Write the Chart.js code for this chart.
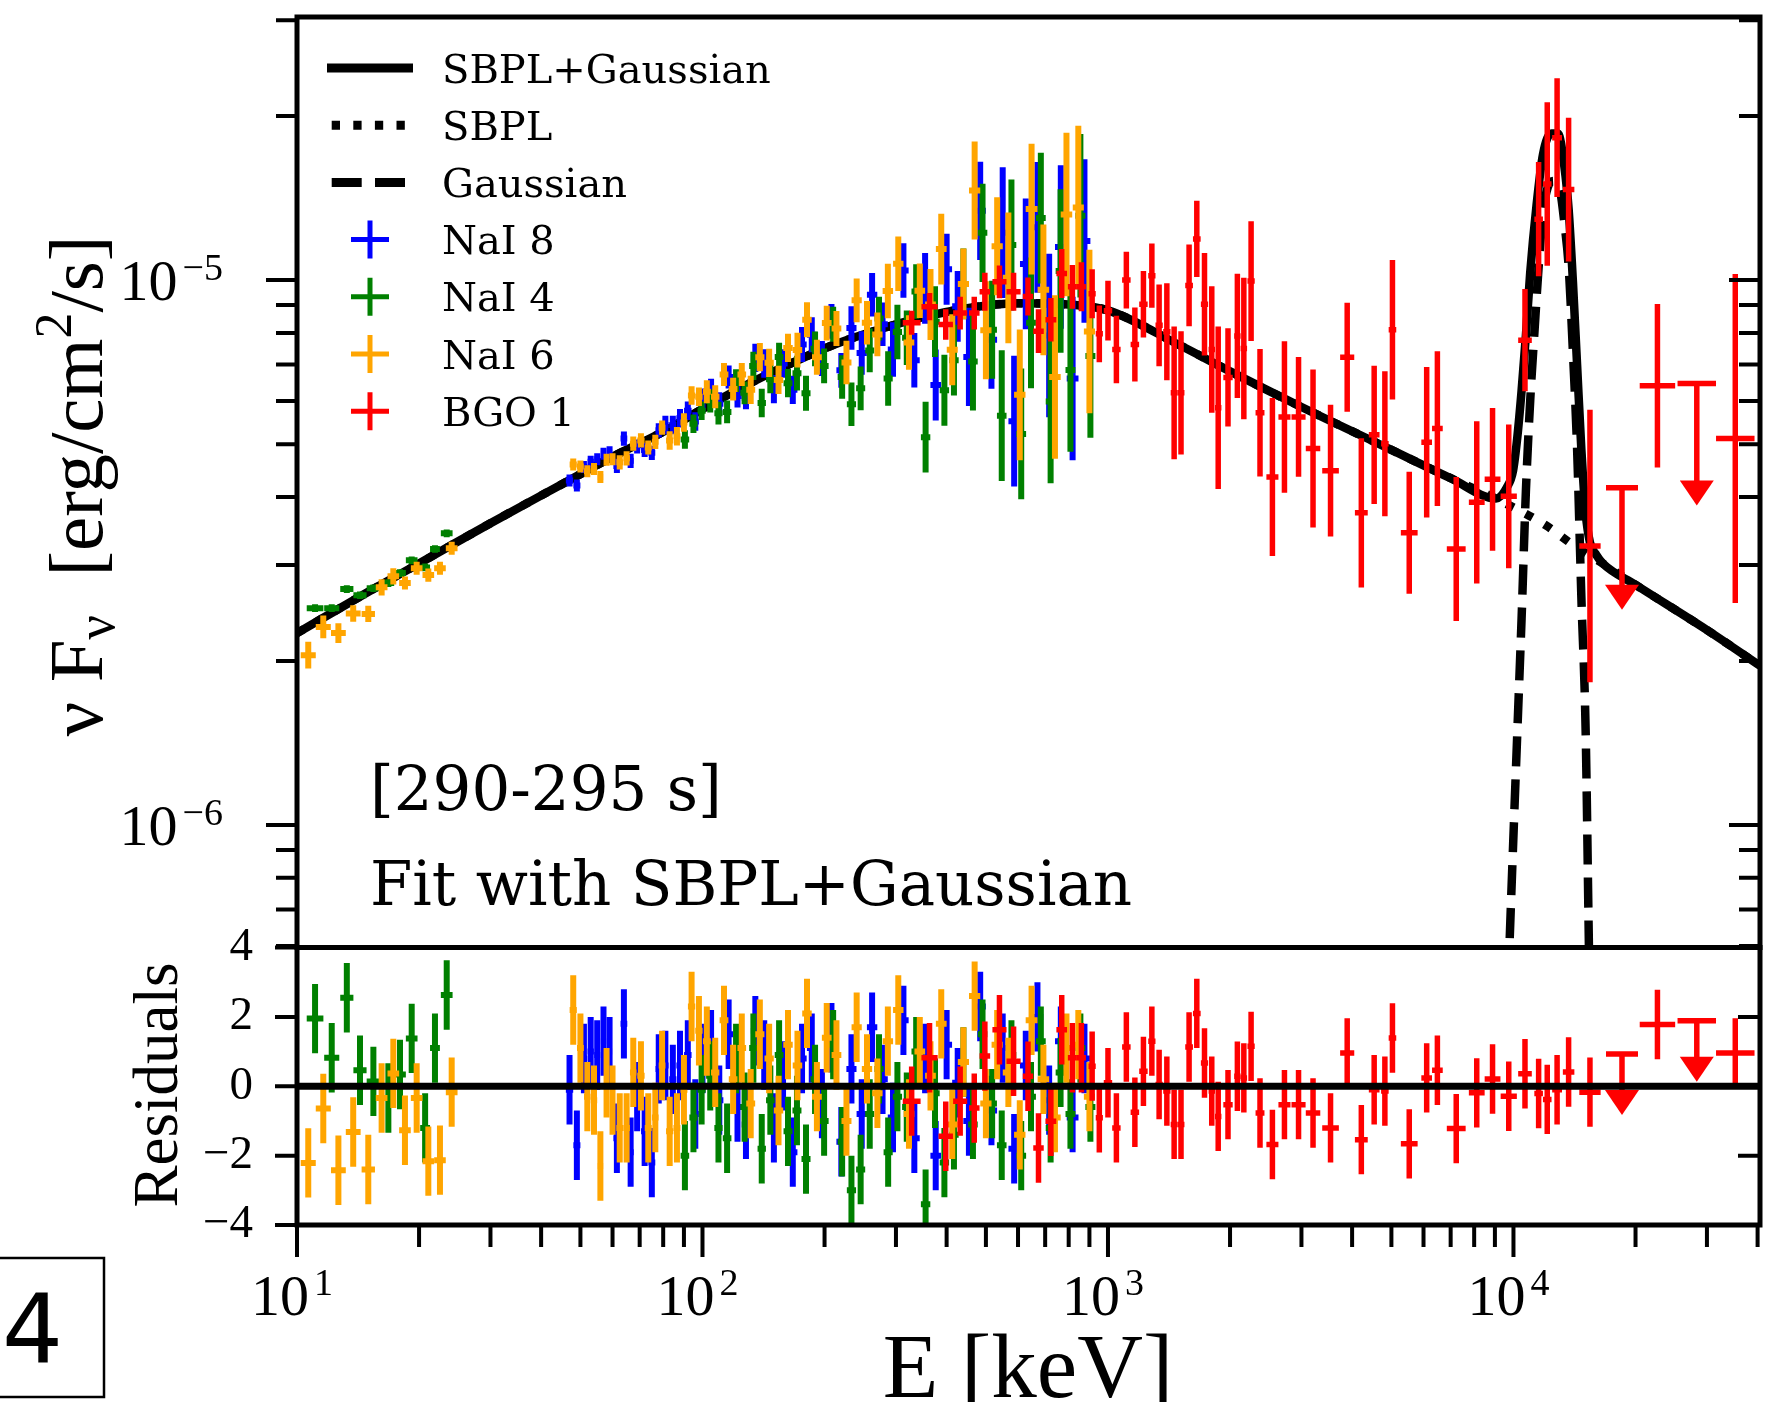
<!DOCTYPE html>
<html lang="en">
<head>
<meta charset="utf-8">
<title>SBPL+Gaussian fit, 290-295 s</title>
<script src="https://cdn.jsdelivr.net/npm/chart.js@4.4.1/dist/chart.umd.min.js"></script>
<style>
  html, body { margin: 0; background: #fff; }
  #page { position: relative; width: 1777px; height: 1402px; overflow: hidden; background: #fff; }
  #page canvas, #page svg { position: absolute; left: 0; }
  #overlay { top: 0; pointer-events: none; }
</style>
</head>
<body>
<div id="page">
  <canvas id="spectrum" width="1777" height="1100" style="top:-60px"></canvas>
  <canvas id="residuals" width="1777" height="522" style="top:880px"></canvas>
  <svg id="overlay" width="1777" height="1402" xmlns="http://www.w3.org/2000/svg">
    <g id="legend" font-family="DejaVu Serif" font-size="40"></g>
    <g font-family="DejaVu Serif" font-size="61">
      <text x="370" y="810">[290-295 s]</text>
      <text x="370" y="905">Fit with SBPL+Gaussian</text>
    </g>
    <g font-family="Liberation Serif">
      <text xml:space="preserve" transform="translate(102 486) rotate(-90)" text-anchor="middle" font-size="77">ν F<tspan font-size="54" dy="12">ν</tspan><tspan dy="-12">  [erg/cm</tspan><tspan font-size="52" dy="-31">2</tspan><tspan dy="31">/s]</tspan></text>
      <text transform="translate(177 1085) rotate(-90)" text-anchor="middle" font-size="63">Residuals</text>
      <text x="1028" y="1397" text-anchor="middle" font-size="91">E [keV]</text>
    </g>
    <rect x="-5" y="1258" width="109" height="139" fill="none" stroke="#000" stroke-width="2.5"/>
    <text x="2" y="1363" font-family="DejaVu Sans" font-size="96">4</text>
  </svg>
</div>
<script>
// flux values below are in units of 1e-6 erg/cm^2/s
const FLUX_UNIT = 1e-6;
const energyRange = [10, 40550];
const fluxRange = [5.96e-7, 3.04e-5];
const residualRange = [-4, 4];

const energyTicks = [10, 20, 30, 40, 50, 60, 70, 80, 90, 100, 200, 300, 400, 500, 600, 700, 800, 900,
  1000, 2000, 3000, 4000, 5000, 6000, 7000, 8000, 9000, 10000, 20000, 30000, 40000];
const fluxTicks = [6e-7, 7e-7, 8e-7, 9e-7, 1e-6, 2e-6, 3e-6, 4e-6, 5e-6, 6e-6, 7e-6, 8e-6, 9e-6, 1e-5, 2e-5, 3e-5];
const residualTicks = [-4, -2, 0, 2, 4];

const modelNames = ['SBPL+Gaussian', 'SBPL', 'Gaussian'];
const detectorNames = ['NaI 8', 'NaI 4', 'NaI 6', 'BGO 1'];
const detectorColors = ['#0000ff', '#008000', '#ffa500', '#ff0000'];

// model curves
const sbplE = [10, 15, 20, 30, 45, 60, 80, 100, 130, 170, 210, 270, 350, 450, 600, 800, 1000, 1500, 2000, 3000,
  5000, 7000, 9000, 12000, 14000, 16600, 20000, 30000, 40550];
const sbplFlux = [2.25, 2.68, 3.02, 3.58, 4.22, 4.74, 5.27, 5.80, 6.45, 7.10, 7.60, 8.10, 8.55, 8.88, 9.07, 9.02, 8.80, 7.60, 6.80, 5.85,
  4.88, 4.33, 3.98, 3.55, 3.27, 3.02, 2.76, 2.28, 1.96];

const totalE = [10, 15, 20, 30, 45, 60, 80, 100, 130, 170, 210, 270, 350, 450, 600, 800, 1000, 1500, 2000, 3000, 5000, 7000,
  9055, 9621, 9977, 10222, 10471, 10730, 10996, 11400, 11823, 12410, 12866, 13357, 13679, 14014, 14354, 14704, 15067,
  15440, 16010, 16610, 20000, 30000, 40550];
const totalFlux = [2.25, 2.68, 3.02, 3.58, 4.22, 4.74, 5.27, 5.80, 6.45, 7.10, 7.60, 8.10, 8.55, 8.88, 9.07, 9.02, 8.80, 7.60, 6.80, 5.85, 4.88, 4.33,
  3.975, 4.16, 4.47, 5.15, 6.26, 7.90, 10.32, 13.73, 17.0, 18.59, 18.59, 16.12, 13.49, 9.96, 6.97, 4.89, 3.74,
  3.30, 3.13, 3.02, 2.76, 2.28, 1.96];

const gaussE = [9400, 9772, 10222, 10471, 10730, 10996, 11261, 11539, 11823, 12150, 12570, 13032, 13357, 13679, 14014,
  14354, 14704, 15067, 15350, 15650];
const gaussFlux = [0.25, 0.596, 1.484, 2.39, 4.09, 6.0, 8.0, 10.6, 13.3, 14.8, 15.2, 14.6, 12.7, 10.6, 7.4,
  4.89, 2.62, 1.484, 0.596, 0.24];

// NaI 8
const nai8E = [47, 49, 51, 53, 55, 57, 59, 61.5, 64, 66.5, 69, 72, 75, 78, 81, 84.5, 88, 92, 96, 100, 105, 110, 116, 122, 128,
  135, 142, 150, 158, 167, 176, 186, 197, 208, 220, 233, 247, 262, 278, 295, 313, 333, 354, 376, 400, 426, 454, 484, 516,
  550, 587, 627, 670, 716, 765, 818, 875];
const nai8Flux = [4.29, 4.20, 4.54, 4.64, 4.69, 4.80, 4.83, 4.56, 5.12, 4.66, 4.95, 4.88, 4.82, 5.30, 5.42, 5.42, 5.58, 5.76, 5.50, 6.03,
  6.28, 5.93, 6.64, 6.13, 6.08, 7.20, 7.03, 6.31, 7.03, 6.29, 7.62, 7.94, 7.18, 8.40, 6.83, 8.17, 7.35, 9.40, 8.30, 7.46,
  10.42, 7.13, 9.66, 6.42, 10.47, 8.95, 7.23, 13.4, 7.77, 12.22, 5.51, 10.71, 12.5, 7.91, 11.5, 6.60, 11.80];
const nai8Dex = [0.011, 0.011, 0.011, 0.011, 0.011, 0.011, 0.011, 0.013, 0.013, 0.013, 0.013, 0.013, 0.013, 0.013,
  0.017, 0.017, 0.017, 0.017, 0.017, 0.021, 0.021, 0.021, 0.021, 0.021, 0.021, 0.026, 0.026, 0.026, 0.026, 0.026,
  0.032, 0.032, 0.032, 0.032, 0.032, 0.04, 0.04, 0.04, 0.04, 0.05, 0.05, 0.05, 0.065, 0.065, 0.065, 0.065,
  0.09, 0.09, 0.09, 0.12, 0.12, 0.12, 0.12, 0.15, 0.15, 0.15, 0.15];
const nai8Res = [-0.1, -1.7, 0.8, 1.0, 0.9, 1.3, 1.0, -1.5, 1.8, -1.9, -0.3, -1.3, -2.2, 0.5, 0.6, 0.2, 0.6, 0.9, -0.8, 0.8,
  1.2, -0.4, 1.5, -0.6, -1.1, 1.6, 0.9, -1.2, 0.3, -1.9, 0.8, 1.1, -0.5, 1.4, -1.6, 0.5, -0.8, 1.7, 0.2, -0.9,
  1.9, -1.5, 0.8, -2.0, 1.2, 0.1, -1.0, 2.3, -0.7, 1.1, -1.8, 0.6, 2.0, -0.4, 1.3, -0.9, 0.8];

// NaI 4
const nai4LowE = [11.08, 12.18, 13.27, 14.30, 15.43, 16.80, 17.95, 19.18, 20.70, 21.89, 23.40];
const nai4LowFlux = [2.50, 2.50, 2.71, 2.64, 2.72, 2.78, 2.90, 3.06, 2.97, 3.21, 3.43];
const nai4LowDex = [0.007, 0.007, 0.007, 0.007, 0.007, 0.007, 0.007, 0.007, 0.007, 0.007, 0.007];
const nai4LowRes = [1.95, 0.82, 2.55, 0.46, 0.14, -0.34, 0.34, 1.38, -1.2, 1.1, 2.63];
const nai4E = [90.5, 95, 99.5, 104.5, 109.5, 115, 121, 127, 133.5, 140, 147, 154.5, 162.5, 171, 180, 189.5, 199.5, 210, 221, 233,
  245.5, 258.5, 272.5, 287, 302.5, 319, 336.5, 355, 374.5, 395, 417, 440, 464.5, 490.5, 518, 547, 578, 611, 646, 683,
  722, 764, 808, 855, 905];
const nai4Flux = [5.10, 5.45, 5.76, 6.00, 5.70, 5.73, 6.54, 6.21, 6.96, 5.95, 6.58, 7.23, 6.47, 6.75, 6.20, 7.48, 6.96, 8.30, 6.64, 5.92,
  6.33, 7.43, 8.50, 6.60, 8.03, 7.84, 9.53, 5.15, 8.39, 6.28, 7.13, 9.84, 7.09, 12.21, 8.11, 5.64, 11.60, 5.22, 8.35, 13.00,
  5.99, 10.39, 6.84, 13.13, 7.26];
const nai4Dex = [0.017, 0.017, 0.017, 0.021, 0.021, 0.021, 0.021, 0.021, 0.026, 0.026, 0.026, 0.026, 0.026,
  0.032, 0.032, 0.032, 0.032, 0.032, 0.04, 0.04, 0.04, 0.04, 0.04, 0.05, 0.05, 0.05, 0.05,
  0.065, 0.065, 0.065, 0.065, 0.065, 0.09, 0.09, 0.09, 0.12, 0.12, 0.12, 0.12, 0.12, 0.15, 0.15, 0.15, 0.15, 0.15];
const nai4Res = [-2.0, -0.9, -0.1, 0.3, -1.2, -1.5, 0.8, -0.6, 1.1, -1.8, -0.4, 0.9, -1.3, -0.7, -2.1, 0.2, -1.0, 1.2, -1.6, -3.0,
  -2.4, -0.8, 0.5, -1.9, -0.3, -0.6, 1.0, -3.4, -0.2, -2.2, -1.4, 0.7, -1.1, 1.5, -0.5, -1.7, 0.9, -2.0, -0.3, 1.3,
  -1.2, 0.4, -0.8, 1.1, -0.6];

// NaI 6
const nai6LowE = [10.66, 11.61, 12.65, 13.76, 14.99, 16.17, 17.28, 18.46, 19.73, 21.08, 22.52, 24.07];
const nai6LowFlux = [2.05, 2.31, 2.25, 2.445, 2.44, 2.73, 2.86, 2.78, 2.96, 2.875, 2.96, 3.22];
const nai6LowDex = [0.0245, 0.021, 0.018, 0.015, 0.015, 0.015, 0.015, 0.012, 0.012, 0.012, 0.012, 0.012];
const nai6LowRes = [-2.21, -0.64, -2.42, -1.32, -2.4, -0.34, 0.37, -1.27, -0.34, -2.16, -2.13, -0.17];
const nai6E = [48, 50, 52, 54, 56, 58, 60, 62.5, 65, 67.5, 70.5, 73.5, 76.5, 79.5, 83, 86.5, 90, 94, 98, 102.5, 107.5, 113, 119,
  125, 131.5, 138.5, 146, 154, 162.5, 171.5, 181, 191.5, 202.5, 214, 226.5, 240, 254.5, 270, 286.5, 304, 323, 343.5,
  365, 388, 413, 440, 469, 500, 533, 568, 606, 648, 693, 740, 790, 845, 900];
const nai6Flux = [4.59, 4.55, 4.46, 4.50, 4.35, 4.68, 4.69, 4.63, 4.71, 5.01, 5.08, 4.93, 5.05, 5.36, 5.08, 5.17, 5.48, 6.14, 6.11, 6.24,
  6.11, 6.71, 6.31, 6.71, 6.29, 7.22, 7.05, 6.56, 7.51, 7.44, 8.46, 7.22, 8.34, 8.15, 7.06, 9.18, 8.35, 7.95, 9.55, 10.72,
  7.68, 9.56, 9.02, 11.40, 7.45, 9.84, 14.6, 8.09, 11.54, 10.10, 6.16, 13.5, 9.60, 6.64, 13.20, 13.59, 8.05];
const nai6Dex = [0.011, 0.011, 0.011, 0.011, 0.011, 0.011, 0.011, 0.013, 0.013, 0.013, 0.013, 0.013, 0.013, 0.013,
  0.017, 0.017, 0.017, 0.017, 0.017, 0.021, 0.021, 0.021, 0.021, 0.021, 0.026, 0.026, 0.026, 0.026, 0.026,
  0.032, 0.032, 0.032, 0.032, 0.032, 0.04, 0.04, 0.04, 0.04, 0.05, 0.05, 0.05, 0.05, 0.065, 0.065, 0.065, 0.065,
  0.09, 0.09, 0.09, 0.12, 0.12, 0.12, 0.12, 0.15, 0.15, 0.15, 0.15];
const nai6Res = [2.2, 1.1, -0.3, -0.4, -2.3, 0.1, -0.4, -1.2, -1.2, 0.4, 0.3, -1.2, -0.9, 0.6, -1.3, -1.2, -0.1, 2.3, 1.6, 1.3,
  0.4, 1.9, 0.2, 1.1, -0.5, 1.5, 0.8, -0.7, 1.2, 0.6, 2.1, -0.3, 1.4, 0.9, -1.0, 1.7, 0.5, -0.2, 1.3, 2.2,
  -0.8, 1.0, 0.3, 1.8, -1.1, 0.7, 2.6, -0.5, 1.2, 0.4, -1.4, 1.9, 0.2, -0.9, 1.1, 1.2, -0.3];

// BGO 1 (upper limits listed in bgoUpperLimits, flux there is the limit)
const bgoE = [328, 363, 398, 432, 468, 497, 540, 585, 635, 674, 723, 769, 817, 860, 914,
  952, 1000, 1049, 1110, 1165, 1223, 1283, 1337, 1397, 1456, 1514,
  1585, 1656, 1730, 1803, 1870, 1977, 2085, 2163, 2254, 2371,
  2544, 2724, 2951, 3204, 3539, 3890, 4215, 4534, 4818, 5030,
  5533, 6109, 6492, 7225, 8118, 8880, 9736, 10676, 11536, 12114,
  12811, 13677, 15440, 18520, 22650, 28320, 35240];
const bgoFlux = [8.35, 8.94, 8.29, 8.70, 8.70, 9.52, 9.93, 9.52, 9.33, 8.06, 8.46, 10.28, 9.72, 9.72, 9.44,
  7.97, 8.79, 7.46, 10.0, 7.62, 9.03, 10.19, 8.26, 8.04, 6.21, 6.21,
  9.78, 11.9, 9.03, 7.46, 5.83, 6.63, 7.90, 7.49, 9.96, 5.71,
  4.35, 5.61, 5.61, 4.91, 4.47, 7.22, 3.74, 5.20, 5.01, 8.11,
  3.44, 5.04, 5.34, 3.21, 3.91, 4.31, 4.01, 7.76, 12.94, 15.01,
  18.26, 14.66, 3.25, 4.16, 6.40, 6.46, 5.12];
const bgoDex = [0.022, 0.025, 0.028, 0.03, 0.03, 0.035, 0.03, 0.035, 0.035, 0.04, 0.04, 0.045, 0.04, 0.045, 0.045,
  0.052, 0.055, 0.062, 0.052, 0.068, 0.061, 0.059, 0.075, 0.089, 0.122, 0.113,
  0.075, 0.07, 0.094, 0.116, 0.149, 0.09, 0.114, 0.13, 0.11, 0.117,
  0.145, 0.139, 0.11, 0.145, 0.121, 0.1, 0.137, 0.127, 0.133, 0.128,
  0.112, 0.138, 0.142, 0.132, 0.149, 0.131, 0.132, 0.094, 0.105, 0.15,
  0.109, 0.132, 0.25, 0, 0.15, 0, 0.302];
const bgoRes = [-0.43, 0.82, -1.44, -0.43, -0.63, 0.87, 1.63, 0.72, 0.29, -1.78, -1.01, 1.63, 0.82, 0.82, 0.58,
  -0.91, 0.1, -1.2, 1.13, -0.75, 0.43, 1.3, 0.05, -0.14, -1.1, -1.1,
  1.13, 2.1, 0.67, -0.14, -0.87, -0.53, 0.29, 0.24, 1.15, -0.77,
  -1.68, -0.53, -0.53, -0.77, -1.2, 0.96, -1.54, -0.1, -0.14, 1.39,
  -1.66, 0.24, 0.46, -1.22, -0.19, 0.21, -0.29, 0.36, -0.21, -0.38,
  -0.1, 0.41, -0.17, 0.93, 1.78, 1.89, 0.96];
const bgoUpperLimits = [18520, 28320];

// ---- helpers ----
function isDecade(v) {
  const p = Math.log10(Math.abs(v));
  return Math.abs(p - Math.round(p)) < 1e-6;
}

// channel widths: half the log distance to the nearest neighbour
function binEdges(E) {
  return E.map((e, i) => {
    const l = i > 0 ? Math.log10(e / E[i - 1]) : Infinity;
    const r = i < E.length - 1 ? Math.log10(E[i + 1] / e) : Infinity;
    const h = Math.min(l, r) / 2;
    return [e / 10 ** h, e * 10 ** h];
  });
}
function spectrumPoints(E, flux, dex, upper = []) {
  const edges = binEdges(E);
  return E.map((e, i) => {
    const f = flux[i] * FLUX_UNIT;
    return { x: e, y: f, ylo: f / 10 ** dex[i], yhi: f * 10 ** dex[i], xlo: edges[i][0], xhi: edges[i][1], ul: upper.includes(e) };
  });
}
function residualPoints(E, res, upper = []) {
  const edges = binEdges(E);
  return E.map((e, i) => ({ x: e, y: res[i], ylo: res[i] - 1, yhi: res[i] + 1, xlo: edges[i][0], xhi: edges[i][1], ul: upper.includes(e) }));
}
function curve(E, flux) {
  return E.map((e, i) => ({ x: e, y: flux[i] * FLUX_UNIT }));
}
function barSet(color, data, width) {
  return { type: 'scatter', data, errorBars: color, barWidth: width, pointRadius: 0, pointHoverRadius: 0 };
}
function lineSet(data, dash) {
  return { type: 'line', data, showLine: true, borderColor: '#000', borderWidth: 8.5, borderDash: dash,
    borderCapStyle: 'butt', pointRadius: 0, cubicInterpolationMode: 'monotone', fill: false };
}

// ---- plugins ----
function drawErrorBars(chart, opts) {
  const { ctx, chartArea: a, scales: { x, y } } = chart;
  ctx.save();
  ctx.beginPath();
  ctx.rect(a.left, a.top, a.right - a.left, a.bottom - a.top);
  ctx.clip();
  ctx.lineCap = 'butt';
  chart.data.datasets.forEach(ds => {
    if (!ds.errorBars) return;
    ctx.strokeStyle = ds.errorBars;
    ctx.fillStyle = ds.errorBars;
    ctx.lineWidth = ds.barWidth;
    ds.data.forEach(p => {
      const px = x.getPixelForValue(p.x);
      const py = y.getPixelForValue(p.y);
      ctx.beginPath();
      ctx.moveTo(x.getPixelForValue(p.xlo), py);
      ctx.lineTo(x.getPixelForValue(p.xhi), py);
      if (p.ul) {
        ctx.moveTo(px, py);
        ctx.lineTo(px, py + opts.arrow - 24);
        ctx.stroke();
        ctx.beginPath();
        ctx.moveTo(px - 17, py + opts.arrow - 25);
        ctx.lineTo(px + 17, py + opts.arrow - 25);
        ctx.lineTo(px, py + opts.arrow);
        ctx.closePath();
        ctx.fill();
      } else {
        ctx.moveTo(px, y.getPixelForValue(p.ylo));
        ctx.lineTo(px, y.getPixelForValue(p.yhi));
        ctx.stroke();
      }
    });
  });
  ctx.restore();
}
const errorBarPlugin = {
  id: 'errorBars',
  beforeDatasetsDraw(chart, args, opts) { if (opts.layer === 'before') drawErrorBars(chart, opts); },
  afterDatasetsDraw(chart, args, opts) { if (opts.layer !== 'before') drawErrorBars(chart, opts); }
};

// "10" with a raised exponent, as in the original tick labels
function powerLabel(ctx, exp, x, baseline, align) {
  const main = '10';
  const sup = String(exp).replace('-', '\u2212');
  ctx.font = "58px 'Liberation Serif'";
  const wMain = ctx.measureText(main).width;
  ctx.font = "38px 'Liberation Serif'";
  const wSup = ctx.measureText(sup).width;
  const gap = 5;
  const total = wMain + gap + wSup;
  const left = align === 'right' ? x - total : x - total / 2;
  ctx.fillStyle = '#000';
  ctx.textAlign = 'left';
  ctx.textBaseline = 'alphabetic';
  ctx.font = "58px 'Liberation Serif'";
  ctx.fillText(main, left, baseline);
  ctx.font = "38px 'Liberation Serif'";
  ctx.fillText(sup, left + wMain + gap, baseline - 20);
}

const axisFramePlugin = {
  id: 'axisFrame',
  afterDraw(chart, args, opts) {
    const { ctx, chartArea: a, scales } = chart;
    ctx.save();
    ctx.strokeStyle = '#000';
    ctx.lineWidth = 4;
    ctx.beginPath();
    scales.y.ticks.forEach(t => {
      const len = opts.yLog && !isDecade(t.value) ? opts.minor : opts.major;
      const py = scales.y.getPixelForValue(t.value);
      ctx.moveTo(a.left - len, py); ctx.lineTo(a.left, py);
      ctx.moveTo(a.right - len, py); ctx.lineTo(a.right, py);
    });
    if (opts.xTicks) {
      scales.x.ticks.forEach(t => {
        const len = isDecade(t.value) ? opts.major + 10 : opts.minor;
        const px = scales.x.getPixelForValue(t.value);
        ctx.moveTo(px, a.bottom); ctx.lineTo(px, a.bottom + len);
      });
    }
    ctx.stroke();
    ctx.lineWidth = 5;
    ctx.strokeRect(a.left, a.top, a.right - a.left, a.bottom - a.top);
    if (opts.yLog) {
      scales.y.ticks.filter(t => isDecade(t.value)).forEach(t => {
        powerLabel(ctx, Math.round(Math.log10(t.value)), a.left - 74, scales.y.getPixelForValue(t.value) + 20, 'right');
      });
    }
    if (opts.xTicks) {
      scales.x.ticks.filter(t => isDecade(t.value)).forEach(t => {
        powerLabel(ctx, Math.round(Math.log10(t.value)), scales.x.getPixelForValue(t.value) - 5, a.bottom + 90, 'center');
      });
    }
    ctx.restore();
  }
};

const hiddenGrid = (len) => ({ drawOnChartArea: false, drawTicks: true, tickLength: len, color: 'rgba(0,0,0,0)' });

// ---- spectrum panel ----
new Chart(document.getElementById('spectrum'), {
  type: 'scatter',
  data: {
    datasets: [
      barSet(detectorColors[0], spectrumPoints(nai8E, nai8Flux, nai8Dex), 6),
      barSet(detectorColors[1], spectrumPoints(nai4LowE, nai4LowFlux, nai4LowDex), 6),
      barSet(detectorColors[1], spectrumPoints(nai4E, nai4Flux, nai4Dex), 6),
      barSet(detectorColors[2], spectrumPoints(nai6LowE, nai6LowFlux, nai6LowDex), 6),
      barSet(detectorColors[2], spectrumPoints(nai6E, nai6Flux, nai6Dex), 6),
      barSet(detectorColors[3], spectrumPoints(bgoE, bgoFlux, bgoDex, bgoUpperLimits), 5.5),
      lineSet(curve(totalE, totalFlux), []),
      lineSet(curve(sbplE, sbplFlux), [8, 13.5]),
      lineSet(curve(gaussE, gaussFlux), [30, 13])
    ]
  },
  options: {
    responsive: false,
    animation: false,
    events: [],
    layout: { padding: { top: 77, right: 17, bottom: 92.5, left: 0 } },
    plugins: {
      legend: { display: false },
      tooltip: { enabled: false },
      errorBars: { layer: 'after', arrow: 122 },
      axisFrame: { yLog: true, major: 31, minor: 21, xTicks: false }
    },
    scales: {
      x: { type: 'logarithmic', min: energyRange[0], max: energyRange[1], display: false },
      y: {
        type: 'logarithmic', min: fluxRange[0], max: fluxRange[1],
        afterFit: s => { s.width = 297; },
        afterBuildTicks: s => { s.ticks = fluxTicks.map(v => ({ value: v })); },
        grid: { display: false },
        border: { display: false },
        ticks: { display: false }
      }
    }
  },
  plugins: [errorBarPlugin, axisFramePlugin]
});

// ---- residual panel ----
new Chart(document.getElementById('residuals'), {
  type: 'scatter',
  data: {
    datasets: [
      { type: 'line', data: [{ x: energyRange[0], y: 0 }, { x: energyRange[1], y: 0 }], showLine: true,
        borderColor: '#000', borderWidth: 7, pointRadius: 0 },
      barSet(detectorColors[0], residualPoints(nai8E, nai8Res), 6),
      barSet(detectorColors[1], residualPoints(nai4LowE, nai4LowRes), 6),
      barSet(detectorColors[1], residualPoints(nai4E, nai4Res), 6),
      barSet(detectorColors[2], residualPoints(nai6LowE, nai6LowRes), 6),
      barSet(detectorColors[2], residualPoints(nai6E, nai6Res), 6),
      barSet(detectorColors[3], residualPoints(bgoE, bgoRes, bgoUpperLimits), 5.5)
    ]
  },
  options: {
    responsive: false,
    animation: false,
    events: [],
    layout: { padding: { top: 67.5, right: 17, bottom: 0, left: 0 } },
    plugins: {
      legend: { display: false },
      tooltip: { enabled: false },
      errorBars: { layer: 'before', arrow: 61 },
      axisFrame: { yLog: false, major: 22, minor: 22, xTicks: true }
    },
    scales: {
      x: {
        type: 'logarithmic', min: energyRange[0], max: energyRange[1],
        afterFit: s => { s.height = 177; },
        afterBuildTicks: s => { s.ticks = energyTicks.map(v => ({ value: v })); },
        grid: { display: false },
        border: { display: false },
        ticks: { display: false }
      },
      y: {
        min: residualRange[0], max: residualRange[1],
        afterFit: s => { s.width = 297; },
        afterBuildTicks: s => { s.ticks = residualTicks.map(v => ({ value: v })); },
        grid: hiddenGrid(20),
        border: { display: false },
        ticks: { autoSkip: false, padding: 24, color: '#000', font: { family: 'Liberation Serif', size: 47 },
          callback: v => (v < 0 ? '\u2212' + Math.abs(v) : String(v)) }
      }
    }
  },
  plugins: [errorBarPlugin, axisFramePlugin]
});

// ---- legend ----
const NS = 'http://www.w3.org/2000/svg';
const legendGroup = document.getElementById('legend');
function svgEl(tag, attrs, text) {
  const el = document.createElementNS(NS, tag);
  Object.entries(attrs).forEach(([k, v]) => el.setAttribute(k, v));
  if (text) el.textContent = text;
  legendGroup.appendChild(el);
}
const legendTop = 68, legendStep = 57.2;
const modelDash = ['none', '8.3 13.3', '30 13.3'];
modelNames.forEach((name, i) => {
  const cy = legendTop + i * legendStep;
  const x0 = i === 0 ? 327 : 331.7, x1 = i === 0 ? 413 : 405;
  svgEl('line', { x1: x0, y1: cy, x2: x1, y2: cy, stroke: '#000', 'stroke-width': 9, 'stroke-dasharray': modelDash[i] });
  svgEl('text', { x: 442, y: cy + 14.5 }, name);
});
detectorNames.forEach((name, j) => {
  const cy = legendTop + (j + 3) * legendStep;
  svgEl('path', { d: `M351 ${cy}H389M370 ${cy - 19}V${cy + 19}`, stroke: detectorColors[j], 'stroke-width': 5, fill: 'none' });
  svgEl('text', { x: 442, y: cy + 14.5 }, name);
});
</script>
</body>
</html>
